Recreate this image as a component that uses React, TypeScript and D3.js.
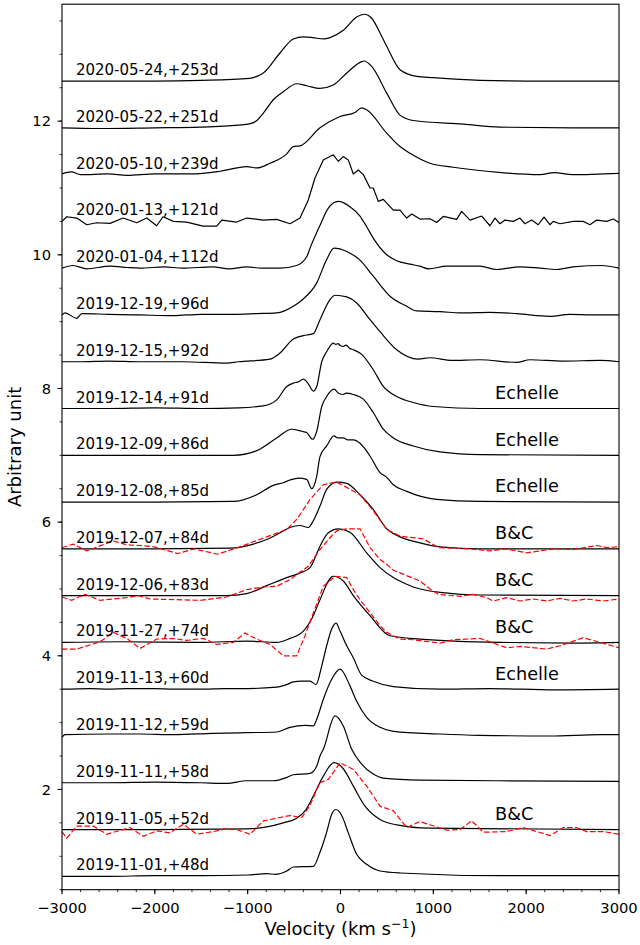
import React from "react";
import * as d3 from "d3";

type P = [number, number];

// ---- tick labels ----
const xTickValues = [-3000, -2000, -1000, 0, 1000, 2000, 3000];
const yTickValues = [2, 4, 6, 8, 10, 12];

// ---- spectrum labels (bottom to top) ----
const dates = [
  "2019-11-01,+48d", "2019-11-05,+52d", "2019-11-11,+58d", "2019-11-12,+59d",
  "2019-11-13,+60d", "2019-11-27,+74d", "2019-12-06,+83d", "2019-12-07,+84d",
  "2019-12-08,+85d", "2019-12-09,+86d", "2019-12-14,+91d", "2019-12-15,+92d",
  "2019-12-19,+96d", "2020-01-04,+112d", "2020-01-13,+121d", "2020-05-10,+239d",
  "2020-05-22,+251d", "2020-05-24,+253d",
];
const offsets = [0.7, 1.4, 2.1, 2.8, 3.5, 4.2, 4.9, 5.6, 6.3, 7.0, 7.7, 8.4, 9.1, 9.8, 10.5, 11.2, 11.9, 12.6];
const instruments = ["", "B&C", "", "", "Echelle", "B&C", "B&C", "B&C", "Echelle", "Echelle", "Echelle", "", "", "", "", "", "", ""];
// spectra that are drawn as plain polylines (noisy / low resolution)
const linearSpectra = [14];

// ---- black spectra: [velocity km/s, normalized flux] ----
const bk20191101: P[] = [[-3000,0],[-2500,0.0],[-2000,0.01],[-1500,0.01],[-1000,0.02],[-795,0.04],[-700,0.03],[-579,0.08],[-508,0.14],[-293,0.15],[-221,0.36],[-149,0.66],[-95,0.93],[-48,1.0],[13,0.91],[84,0.65],[174,0.33],[282,0.18],[426,0.08],[641,0.05],[1718,0.01],[3000,0.01]];
const bk20191105: P[] = [[-3000,0],[-2000,0.0],[-1010,0.01],[-795,0.04],[-616,0.10],[-472,0.17],[-382,0.28],[-293,0.50],[-185,0.80],[-70,1.0],[30,0.91],[138,0.65],[264,0.35],[426,0.15],[605,0.07],[964,0.02],[3000,0]];
const bk20191111: P[] = [[-3000,0],[-2500,0.0],[-2000,0.01],[-1500,0.0],[-1226,-0.01],[-1010,0.03],[-724,0.03],[-579,0.08],[-508,0.12],[-328,0.14],[-256,0.25],[-221,0.40],[-185,0.50],[-59,1.0],[30,0.85],[121,0.50],[228,0.28],[353,0.13],[461,0.07],[856,0.04],[1718,0.03],[3000,0.02]];
const bk20191112: P[] = [[-3000,-0.02],[-2967,0.02],[-2500,0.03],[-2159,0.03],[-1800,0.02],[-1373,0.04],[-1010,0.05],[-687,0.06],[-544,0.13],[-382,0.16],[-293,0.15],[-256,0.25],[-185,0.55],[-95,0.85],[-5,1.0],[102,0.75],[174,0.52],[282,0.28],[426,0.13],[569,0.07],[1072,0.03],[1500,0.01],[2256,0.0],[2800,0.02],[3000,0.02]];
const bk20191113: P[] = [[-3000,0],[-2700,0.01],[-2500,0.0],[-2300,0.01],[-2000,0.01],[-1800,0.0],[-1500,0.0],[-1250,0.01],[-1000,0.01],[-687,0.03],[-579,0.07],[-508,0.11],[-420,0.12],[-328,0.12],[-264,0.07],[-202,0.35],[-149,0.65],[-95,0.90],[-48,0.99],[-5,0.87],[67,0.65],[138,0.47],[228,0.21],[353,0.12],[569,0.04],[1072,0.0],[1600,0.01],[2300,-0.01],[3000,0]];
const bk20191127: P[] = [[-3000,0],[-2375,0.01],[-1513,0.0],[-1010,0.02],[-687,0.0],[-544,0.06],[-400,0.17],[-293,0.40],[-221,0.64],[-78,0.99],[30,0.92],[138,0.70],[318,0.40],[533,0.10],[856,0.05],[1718,0.0],[2500,-0.01],[3000,0]];
const bk20191206: P[] = [[-3000,0],[-2000,0.0],[-1226,0.0],[-1010,0.03],[-795,0.15],[-579,0.27],[-436,0.34],[-328,0.42],[-221,0.74],[-131,0.94],[-24,1.0],[102,0.95],[282,0.64],[426,0.42],[569,0.27],[713,0.17],[784,0.13],[964,0.07],[1072,0.05],[1503,0.01],[3000,0]];
const bk20191207: P[] = [[-3000,0],[-2000,0.0],[-1190,0.01],[-939,0.07],[-795,0.14],[-652,0.24],[-544,0.32],[-436,0.35],[-347,0.32],[-293,0.42],[-221,0.64],[-149,0.89],[-41,1.0],[67,0.98],[210,0.81],[353,0.59],[498,0.30],[641,0.18],[856,0.09],[1072,0.03],[1503,0.0],[3000,0]];
const bk20191208: P[] = [[-3000,0],[-2000,0.0],[-1155,0.01],[-903,0.11],[-724,0.25],[-616,0.29],[-544,0.33],[-454,0.36],[-364,0.34],[-310,0.20],[-256,0.39],[-221,0.68],[-149,0.84],[-70,0.99],[-30,0.96],[30,0.96],[80,0.93],[138,0.93],[210,0.88],[318,0.69],[426,0.44],[498,0.37],[569,0.26],[713,0.16],[1036,0.04],[1503,0.01],[3000,0]];
const bk20191209: P[] = [[-3000,0],[-2000,0.0],[-1155,0.0],[-900,0.07],[-687,0.26],[-526,0.39],[-418,0.36],[-364,0.34],[-300,0.24],[-256,0.36],[-202,0.73],[-149,0.88],[-70,0.99],[-20,0.93],[30,0.91],[60,0.93],[138,0.91],[246,0.84],[353,0.64],[461,0.39],[569,0.26],[784,0.14],[1072,0.05],[1503,0.01],[3000,0]];
const bk20191214: P[] = [[-3000,0],[-2500,0.0],[-2000,0.01],[-1500,0.0],[-1100,0.01],[-831,0.04],[-687,0.13],[-579,0.33],[-508,0.38],[-450,0.40],[-400,0.44],[-347,0.37],[-293,0.26],[-256,0.33],[-202,0.70],[-149,0.85],[-78,0.98],[-50,0.96],[-27,0.97],[0,0.94],[30,0.93],[60,0.95],[100,0.90],[138,0.88],[228,0.81],[353,0.58],[461,0.33],[605,0.18],[784,0.09],[999,0.03],[1500,0.0],[3000,0]];
const bk20191215: P[] = [[-3000,0],[-2800,0.0],[-2500,0.01],[-2159,0.0],[-1700,0.0],[-1226,-0.02],[-1100,0.0],[-759,0.04],[-652,0.13],[-508,0.34],[-364,0.40],[-293,0.42],[-221,0.63],[-113,0.93],[-59,0.995],[67,0.97],[174,0.88],[318,0.63],[426,0.45],[605,0.18],[838,0.04],[964,0.06],[1200,0.02],[1500,0.03],[1898,-0.01],[2041,0.03],[2400,0.01],[2800,0.02],[3000,0.0]];
const bk20191219: P[] = [[-3000,0],[-2967,0.03],[-2841,-0.05],[-2787,0.02],[-2500,0.01],[-2159,0.0],[-1800,-0.01],[-1500,0.01],[-1158,0.01],[-900,0.02],[-687,0.03],[-508,0.13],[-418,0.22],[-256,0.48],[-149,0.83],[-70,1.0],[67,0.95],[210,0.82],[353,0.58],[533,0.28],[713,0.13],[821,0.06],[1072,0.05],[1300,0.03],[1610,0.04],[1900,0.02],[2256,-0.02],[2471,0.01],[2700,0.0],[3000,0.0]];
const bk20200104: P[] = [[-3000,0],[-2881,0.04],[-2733,-0.01],[-2482,0.03],[-2300,0.01],[-2159,0.0],[-1900,0.02],[-1700,0.0],[-1373,0.02],[-1200,-0.01],[-1010,0.02],[-850,0.0],[-652,0.0],[-472,0.04],[-364,0.17],[-328,0.3],[-221,0.64],[-131,0.90],[-24,1.0],[102,0.92],[210,0.78],[282,0.62],[353,0.45],[498,0.2],[605,0.11],[749,0.06],[856,0.03],[950,-0.01],[1144,0.03],[1503,0.03],[1682,-0.02],[1933,0.02],[2150,0.0],[2328,-0.02],[2507,0.02],[2813,0.04],[3000,0.0]];
const bk20200113: P[] = [[-3000,0.0],[-2949,0.07],[-2841,0.05],[-2733,-0.05],[-2626,-0.02],[-2482,-0.03],[-2342,0.05],[-2195,-0.02],[-2087,0.05],[-1980,-0.065],[-1912,0.07],[-1800,0.0],[-1656,-0.01],[-1481,-0.07],[-1333,-0.07],[-1279,0.02],[-1118,-0.01],[-1010,0.05],[-835,0.02],[-687,0.03],[-544,-0.035],[-436,0.05],[-347,0.32],[-275,0.65],[-185,0.92],[-78,0.996],[-24,0.90],[30,0.97],[84,0.92],[138,0.71],[192,0.77],[246,0.70],[318,0.50],[353,0.50],[407,0.30],[461,0.33],[569,0.17],[641,0.17],[713,0.05],[767,0.11],[856,0.035],[964,0.04],[1036,-0.016],[1107,0.074],[1251,0.03],[1305,0.15],[1395,0.02],[1521,0.08],[1610,-0.065],[1664,0.05],[1718,-0.035],[1772,0.02],[1861,0.0],[1933,0.05],[1987,-0.035],[2059,0.02],[2130,-0.05],[2192,0.065],[2256,-0.05],[2292,0.0],[2364,-0.035],[2507,0.0],[2615,0.0],[2687,-0.05],[2759,0.02],[2867,0.0],[2938,0.035],[3000,-0.016]];
const bk20200510: P[] = [[-3000,0.01],[-2900,0.04],[-2800,0.0],[-2500,0.01],[-2300,-0.01],[-2000,0.01],[-1600,0.01],[-1298,0.05],[-1010,0.12],[-900,0.1],[-759,0.17],[-579,0.31],[-508,0.42],[-436,0.43],[-221,0.70],[-5,0.87],[156,0.93],[228,1.0],[282,0.97],[498,0.62],[641,0.42],[749,0.32],[964,0.17],[1215,0.11],[1575,0.05],[2149,0.0],[2300,0.03],[2500,0.0],[3000,0.02]];
const bk20200522: P[] = [[-3000,0],[-2600,-0.01],[-2000,0.0],[-1513,0.01],[-1100,0.04],[-980,0.06],[-900,0.11],[-831,0.22],[-724,0.42],[-616,0.54],[-472,0.66],[-364,0.63],[-221,0.59],[-78,0.64],[67,0.82],[228,0.99],[253,1.0],[336,0.92],[498,0.52],[641,0.19],[784,0.11],[1323,0.055],[1718,0.01],[2500,0.0],[3000,0]];
const bk20200524: P[] = [[-3000,0],[-2000,0.0],[-1500,0.01],[-980,0.04],[-900,0.07],[-831,0.12],[-652,0.42],[-508,0.63],[-400,0.66],[-300,0.65],[-185,0.63],[-113,0.65],[30,0.76],[174,0.96],[256,1.0],[336,0.94],[426,0.72],[498,0.52],[641,0.17],[821,0.07],[1000,0.05],[1503,0.01],[2000,0.0],[3000,0]];

const blackSpectra: P[][] = [
  bk20191101, bk20191105, bk20191111, bk20191112, bk20191113, bk20191127,
  bk20191206, bk20191207, bk20191208, bk20191209, bk20191214, bk20191215,
  bk20191219, bk20200104, bk20200113, bk20200510, bk20200522, bk20200524,
];

// ---- red dashed (B&C low-res) spectra ----
const rd20191105: P[] = [[-3000,-0.03],[-2950,-0.13],[-2841,0.05],[-2662,0.05],[-2518,-0.07],[-2267,0.03],[-2124,-0.10],[-1980,-0.02],[-1837,-0.05],[-1693,0.08],[-1549,-0.07],[-1370,-0.03],[-1226,0.01],[-1118,0.0],[-975,-0.07],[-831,0.13],[-652,0.18],[-544,0.21],[-418,0.18],[-328,0.36],[-256,0.60],[-221,0.70],[-131,0.75],[-5,1.0],[138,0.90],[282,0.65],[426,0.35],[569,0.28],[713,0.03],[856,0.12],[1144,-0.01],[1287,0.0],[1413,0.13],[1539,-0.04],[1790,-0.03],[1969,0.03],[2256,-0.09],[2400,0.03],[2543,0.03],[2651,-0.03],[2830,-0.03],[3000,-0.07]];
const rd20191127: P[] = [[-3000,-0.10],[-2841,-0.10],[-2590,0.01],[-2447,0.15],[-2303,0.06],[-2159,-0.09],[-1980,0.05],[-1801,0.06],[-1656,0.03],[-1478,0.06],[-1333,-0.03],[-1155,0.0],[-1029,0.14],[-903,0.05],[-759,-0.03],[-616,-0.2],[-472,-0.2],[-382,0.1],[-293,0.44],[-239,0.64],[-185,0.84],[-59,0.99],[67,0.97],[138,0.79],[210,0.64],[426,0.25],[498,0.15],[641,0.05],[784,0.04],[1072,-0.01],[1215,0.04],[1503,0.06],[1790,-0.08],[1933,-0.06],[2220,-0.10],[2364,-0.05],[2615,0.07],[2795,0.0],[3000,-0.08]];
const rd20191206: P[] = [[-3000,-0.02],[-2895,-0.07],[-2752,0.02],[-2590,-0.07],[-2303,-0.03],[-2178,0.0],[-2051,-0.05],[-1513,-0.07],[-1226,-0.02],[-1010,0.09],[-831,0.13],[-687,0.14],[-544,0.24],[-347,0.44],[-221,0.69],[-131,0.84],[-41,0.97],[67,1.0],[210,1.0],[318,0.72],[426,0.54],[498,0.47],[569,0.38],[713,0.30],[856,0.22],[964,0.10],[1053,0.02],[1287,-0.01],[1430,0.02],[1575,-0.03],[1646,-0.08],[1790,-0.03],[1933,-0.08],[2077,-0.05],[2220,-0.08],[2364,-0.04],[2507,-0.08],[2651,-0.05],[2830,-0.08],[3000,-0.05]];
const rd20191207: P[] = [[-3000,0.02],[-2878,0.07],[-2733,-0.03],[-2447,0.12],[-2303,0.06],[-2159,0.05],[-2005,0.03],[-1754,-0.07],[-1575,0.0],[-1324,-0.08],[-1082,0.03],[-795,0.18],[-579,0.29],[-472,0.44],[-328,0.74],[-185,0.96],[-41,1.0],[210,0.81],[353,0.57],[498,0.29],[641,0.19],[892,0.15],[1053,0.02],[1395,0.0],[1610,-0.03],[1790,0.0],[2005,-0.06],[2292,0.0],[2507,-0.01],[2759,0.05],[2867,0.02],[3000,0.03]];

const redSpectra: P[][] = [rd20191105, rd20191127, rd20191206, rd20191207];
const redIndex = [1, 5, 6, 7];

const FONT = "DejaVu Sans, sans-serif";

export default function App() {
  const x = d3.scaleLinear().domain([-3000, 3000]).range([62, 619]);
  const y = d3.scaleLinear().domain([0.5, 13.75]).range([889.7, 4.2]);
  const mkLine = (off: number, linear: boolean) =>
    d3.line<P>().x((d) => x(d[0])).y((d) => y(d[1] + off)).curve(linear ? d3.curveLinear : d3.curveMonotoneX);

  const xMinor = d3.range(-3000, 3001, 200);
  const yMinor = d3.range(0.5, 13.76, 0.5);
  const fmt = (v: number) => (v < 0 ? "\u2212" + Math.abs(v) : String(v));
  const [x0, x1] = x.range();
  const [yb, yt] = y.range();

  return (
    <svg width={640} height={945} style={{ position: "absolute", left: 0, top: 0, background: "#fff" }} fontFamily={FONT}>
      <defs>
        <clipPath id="plotclip">
          <rect x={x0} y={yt} width={x1 - x0} height={yb - yt} />
        </clipPath>
      </defs>
      <rect x={0} y={0} width={640} height={945} fill="#fff" />
      <g clipPath="url(#plotclip)">
        {blackSpectra.map((s, i) => (
          <path key={"b" + i} d={mkLine(offsets[i], linearSpectra.includes(i))(s) || ""} fill="none" stroke="#000" strokeWidth={1.2} strokeLinejoin="round" />
        ))}
        {redSpectra.map((s, i) => (
          <path key={"r" + i} d={mkLine(offsets[redIndex[i]], true)(s) || ""} fill="none" stroke="#ff0000" strokeWidth={1.2} strokeDasharray="5.5,2.4" />
        ))}
      </g>
      {dates.map((t, i) => (
        <text key={"d" + i} x={x(-2850)} y={y(offsets[i] + 0.09)} fontSize={15} fill="#000">{t}</text>
      ))}
      {instruments.map((t, i) =>
        t ? (
          <text key={"n" + i} x={x(1665)} y={y(offsets[i] + 0.145)} fontSize={17.7} fill="#000">{t}</text>
        ) : null
      )}
      {/* frame */}
      <rect x={x0} y={yt} width={x1 - x0} height={yb - yt} fill="none" stroke="#000" strokeWidth={1.1} />
      {/* x ticks */}
      {xMinor.map((v) => (
        <line key={"xm" + v} x1={x(v)} x2={x(v)} y1={yb} y2={yb + 2.5} stroke="#000" strokeWidth={0.8} />
      ))}
      {xTickValues.map((v) => (
        <g key={"xt" + v}>
          <line x1={x(v)} x2={x(v)} y1={yb} y2={yb + 4.5} stroke="#000" strokeWidth={1.1} />
          <text x={x(v)} y={913} textAnchor="middle" fontSize={14.7}>{fmt(v)}</text>
        </g>
      ))}
      {/* y ticks */}
      {yMinor.map((v) => (
        <line key={"ym" + v} x1={x0 - 2.5} x2={x0} y1={y(v)} y2={y(v)} stroke="#000" strokeWidth={0.8} />
      ))}
      {yTickValues.map((v) => (
        <g key={"yt" + v}>
          <line x1={x0 - 4.5} x2={x0} y1={y(v)} y2={y(v)} stroke="#000" strokeWidth={1.1} />
          <text x={51} y={y(v)} dy="0.36em" textAnchor="end" fontSize={14.7}>{fmt(v)}</text>
        </g>
      ))}
      {/* axis labels */}
      <text x={(x0 + x1) / 2} y={935} textAnchor="middle" fontSize={18}>
        Velocity (km s<tspan dy={-7} fontSize={12.5}>{"\u22121"}</tspan><tspan dy={7}>)</tspan>
      </text>
      <text transform={`translate(21,${(yt + yb) / 2}) rotate(-90)`} textAnchor="middle" fontSize={18}>
        Arbitrary unit
      </text>
    </svg>
  );
}
